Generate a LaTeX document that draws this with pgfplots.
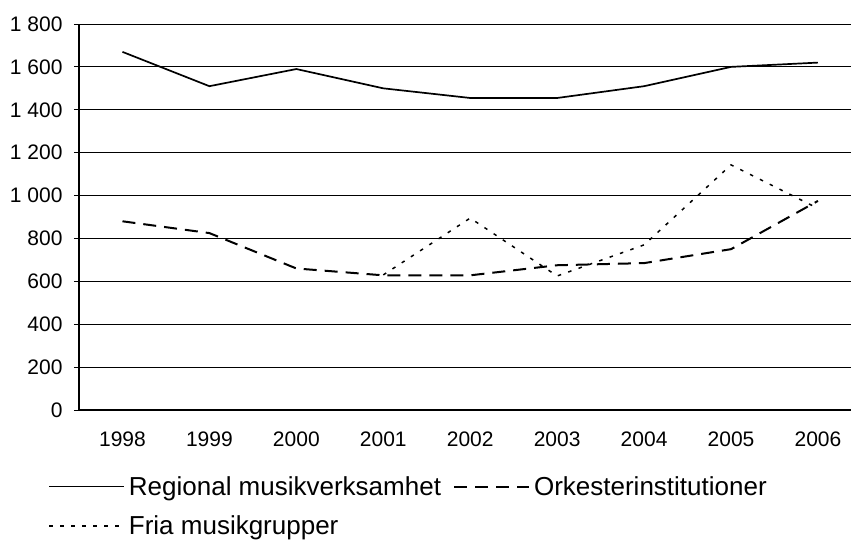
\documentclass[border=0pt]{standalone}
\usepackage{fontspec}
\setmainfont{Liberation Sans}
\usepackage{pgfplots}
\pgfplotsset{compat=1.18}
\begin{document}
\begin{tikzpicture}
\begin{axis}[
  at={(79pt,132pt)}, anchor=south west,
  scale only axis, width=772pt, height=386pt,
  xmin=-0.5, xmax=8.38, ymin=0, ymax=1800,
  axis x line=bottom, axis y line=left,
  axis line style={-, line width=1.2pt},
  tick align=outside,
  major tick length=5pt,
  tick style={line width=1pt, black},
  xtick={0,...,8},
  xticklabels={1998,1999,2000,2001,2002,2003,2004,2005,2006},
  x tick style={draw=none},
  extra x ticks={-0.5,0.5,1.5,2.5,3.5,4.5,5.5,6.5,7.5},
  extra x tick labels={},
  extra x tick style={tick style={draw=black, line width=1pt}},
  ytick={0,200,...,1800},
  ymajorgrids,
  grid style={line width=1pt, black},
  scaled y ticks=false,
  /pgf/number format/assume math mode=true,
  /pgf/number format/1000 sep={\ },
  ticklabel style={font=\fontsize{21}{25}\selectfont},
  yticklabel style={xshift=-8pt},
  xticklabel style={yshift=-13pt},
  legend columns=2,
  legend cell align=left,
  legend style={draw=none, fill=none, at={(-0.044,-0.161)}, anchor=north west,
    font=\fontsize{26}{30}\selectfont,
    /tikz/every even column/.append style={column sep=10pt},
    row sep=15pt},
  legend image code/.code={\draw[#1] (0pt,0pt) -- (75pt,0pt); \path (77pt,0pt);},
]
\addplot[black, line width=1.7pt] coordinates {
(0,1670) (1,1510) (2,1590) (3,1500) (4,1455) (5,1455) (6,1510) (7,1600) (8,1620)};
\addlegendentry{Regional musikverksamhet}
\addplot[black, line width=2pt, dash pattern=on 13pt off 8pt] coordinates {
(0,880) (1,825) (2,660) (3,628) (4,628) (5,675) (6,685) (7,750) (8,975)};
\addlegendentry{Orkesterinstitutioner}
\addplot[black, line width=1.5pt, dash pattern=on 3.5pt off 7.5pt] coordinates {
(3,630) (4,895) (5,625) (6,770) (7,1143) (8,940)};
\addlegendentry{Fria musikgrupper}
\end{axis}
\pgfresetboundingbox
\path (0pt,0pt) rectangle (851pt,542pt);
\end{tikzpicture}
\end{document}
